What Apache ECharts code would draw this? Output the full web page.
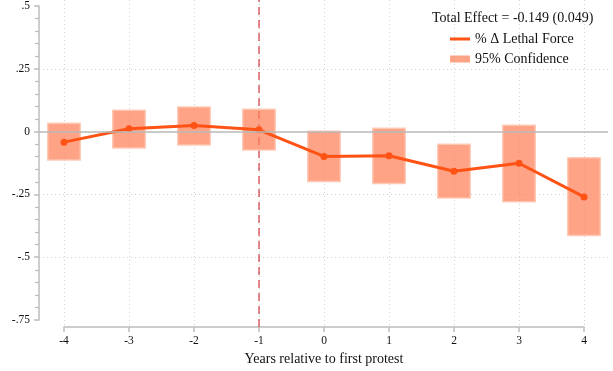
<!DOCTYPE html>
<html>
<head>
<meta charset="utf-8">
<script src="https://cdn.jsdelivr.net/npm/echarts@6/dist/echarts.min.js"></script>
<style>
  html, body { margin: 0; padding: 0; background: #fff; }
  #chart { width: 613px; height: 371px; }
</style>
</head>
<body>
<div id="chart"></div>
<script>
// Event-study estimates: years relative to first protest
const years = [-4, -3, -2, -1, 0, 1, 2, 3, 4];
const effect = [-0.042, 0.011, 0.024, 0.007, -0.099, -0.096, -0.158, -0.126, -0.260];
const ciLow = [-0.113, -0.065, -0.053, -0.073, -0.199, -0.207, -0.264, -0.279, -0.414];
const ciHigh = [0.033, 0.085, 0.098, 0.089, 0.001, 0.013, -0.050, 0.025, -0.104];
const yTicks = [-0.75, -0.5, -0.25, 0, 0.25, 0.5];
const yTickLabels = ['-.75', '-.5', '-.25', '0', '.25', '.5'];
const eventYear = -1;
const totalEffectText = 'Total Effect = -0.149 (0.049)';
const lineName = '% \u0394 Lethal Force';
const ciName = '95% Confidence';

const serif = '"Liberation Serif", "Times New Roman", serif';
const axisGray = '#bdbdbd';
const gridGray = '#d2d2d2';
const lineColor = '#ff5316';

// Outer plot area (y axis) and the tick span of the x axis
const outer = { left: 39, right: 5, top: 6, bottom: 51 };
const inner = { left: 64, right: 29, top: 0, bottom: 42 };
const W = 613;
const pxPerYear = (W - inner.left - inner.right) / (years[years.length - 1] - years[0]);
const xMinOuter = years[0] - (inner.left - outer.left) / pxPerYear;
const xMaxOuter = years[years.length - 1] + (inner.right - outer.right) / pxPerYear;

const chart = echarts.init(document.getElementById('chart'), null, { renderer: 'canvas' });

chart.setOption({
  animation: false,
  backgroundColor: '#fff',
  textStyle: { fontFamily: serif },
  title: {
    text: totalEffectText,
    left: 427, top: 6,
    textStyle: { fontFamily: serif, fontSize: 14, fontWeight: 'normal', color: '#111' }
  },
  legend: [
    {
      data: [{ name: lineName, icon: 'rect' }],
      left: 445, top: 27, itemWidth: 20, itemHeight: 3, itemGap: 9,
      textStyle: { fontFamily: serif, fontSize: 14, color: '#111' }
    },
    {
      data: [{ name: ciName, icon: 'rect' }],
      left: 445, top: 47, itemWidth: 20, itemHeight: 7, itemGap: 9,
      textStyle: { fontFamily: serif, fontSize: 14, color: '#111' }
    }
  ],
  grid: [
    { left: outer.left, right: outer.right, top: outer.top, bottom: outer.bottom, containLabel: false },
    { left: inner.left, right: inner.right, top: inner.top, bottom: inner.bottom, containLabel: false }
  ],
  xAxis: [
    {
      gridIndex: 0, type: 'value', min: xMinOuter, max: xMaxOuter, show: false
    },
    {
      gridIndex: 1, type: 'value', min: years[0], max: years[years.length - 1], interval: 1,
      name: 'Years relative to first protest', nameLocation: 'middle', nameGap: 25,
      nameTextStyle: { fontFamily: serif, fontSize: 14, color: '#111' },
      axisLine: { show: true, onZero: false, lineStyle: { color: axisGray, width: 1.5 } },
      axisTick: { show: true, length: 5, lineStyle: { color: axisGray, width: 1.5 } },
      axisLabel: { fontFamily: serif, fontSize: 11.5, color: '#111', margin: 8 },
      splitLine: { show: true, lineStyle: { color: gridGray, type: [1, 3], width: 1 } }
    }
  ],
  yAxis: [
    {
      gridIndex: 0, type: 'value', position: 'left',
      min: yTicks[0], max: yTicks[yTicks.length - 1], interval: 0.25,
      axisLine: { show: true, onZero: false, lineStyle: { color: axisGray, width: 1.5 } },
      axisTick: { show: true, length: 5, lineStyle: { color: axisGray, width: 1.5 } },
      minorTick: { show: true, splitNumber: 5, length: 4, lineStyle: { color: axisGray, width: 1.2 } },
      axisLabel: {
        fontFamily: serif, fontSize: 11.5, color: '#111', margin: 9,
        formatter: v => {
          const i = yTicks.findIndex(t => Math.abs(t - v) < 1e-9);
          return i >= 0 ? yTickLabels[i] : '';
        }
      },
      splitLine: {
        show: true,
        lineStyle: {
          type: [1, 3], width: 1,
          color: yTicks.map(t => (t === 0 || t === yTicks[0] || t === yTicks[yTicks.length - 1]) ? 'rgba(0,0,0,0)' : gridGray)
        }
      }
    },
    { gridIndex: 1, type: 'value', min: 0, max: 1, show: false }
  ],
  series: [
    {
      // Event year marker across the full plot height
      type: 'line', xAxisIndex: 1, yAxisIndex: 1,
      data: [[eventYear, 0], [eventYear, 1]],
      symbol: 'none', silent: true, z: 1,
      lineStyle: { color: '#c8141e', width: 1, type: [8, 5] }
    },
    {
      name: ciName,
      type: 'custom', xAxisIndex: 0, yAxisIndex: 0, z: 2,
      data: years.map((y, i) => [y, ciLow[i], ciHigh[i]]),
      encode: { x: 0, y: [1, 2] },
      itemStyle: { color: 'rgba(255,128,88,0.72)' },
      renderItem: (params, api) => {
        const x = api.value(0);
        const top = api.coord([x, api.value(2)]);
        const bot = api.coord([x, api.value(1)]);
        const w = api.size([0.5, 0])[0];
        return {
          type: 'rect',
          shape: { x: top[0] - w / 2, y: top[1], width: w, height: bot[1] - top[1] },
          style: { fill: 'rgba(255,128,88,0.72)', stroke: 'rgba(255,200,180,0.9)', lineWidth: 1.5 }
        };
      },
      markLine: {
        silent: true, symbol: 'none', label: { show: false },
        lineStyle: { color: '#b8b8b8', width: 1.5, type: 'solid' },
        data: [{ yAxis: 0 }]
      }
    },
    {
      name: lineName,
      type: 'line', xAxisIndex: 0, yAxisIndex: 0, z: 3,
      data: years.map((y, i) => [y, effect[i]]),
      symbol: 'circle', symbolSize: 7,
      itemStyle: { color: lineColor },
      lineStyle: { color: lineColor, width: 3 }
    }
  ]
});
</script>
</body>
</html>
